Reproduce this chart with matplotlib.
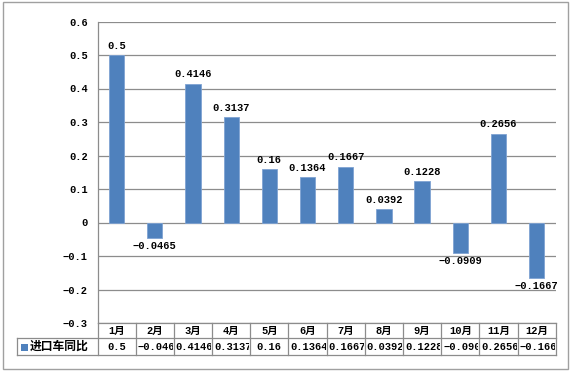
import matplotlib
matplotlib.use("Agg")
import matplotlib.pyplot as plt
from matplotlib.patches import Rectangle
from matplotlib.lines import Line2D

months = ["1月", "2月", "3月", "4月", "5月", "6月", "7月", "8月", "9月", "10月", "11月", "12月"]
values = [0.5, -0.0465, 0.4146, 0.3137, 0.16, 0.1364, 0.1667, 0.0392, 0.1228, -0.0909, 0.2656, -0.1667]
series_name = "进口车同比"
yticks = [-0.3, -0.2, -0.1, 0, 0.1, 0.2, 0.3, 0.4, 0.5, 0.6]

W, H = 570, 371
bar_color = "#4F81BD"
grid_color = "#8C8C8C"
num_font = ["Liberation Mono", "Noto Sans CJK SC"]
cjk_font = ["Noto Sans CJK SC", "DejaVu Sans"]
fs = 7.5

fig = plt.figure(figsize=(W / 100, H / 100), dpi=100)

# plot area in pixels
x0, x1 = 97.5, 555.7
y_top, y_bot = 21.5, 323.0
ax = fig.add_axes([x0 / W, 1 - y_bot / H, (x1 - x0) / W, (y_bot - y_top) / H])

n = len(months)
xs = list(range(n))
ax.bar(xs, values, width=0.4, color=bar_color, edgecolor="#7FA3D3", linewidth=0.6, zorder=3)
ax.set_xlim(-0.5, n - 0.5)
ax.set_ylim(-0.3, 0.6)
ax.set_yticks(yticks)
ax.set_yticklabels(["0" if t == 0 else f"{t:.1f}".replace("-", "−") for t in yticks],
                   fontfamily=num_font, fontweight="bold", fontsize=fs)
ax.set_xticks([])
ax.tick_params(axis="y", length=0, pad=7)
for t in yticks:
    ax.axhline(t, color=grid_color, linewidth=0.9, zorder=1)
for s in ["top", "right", "bottom"]:
    ax.spines[s].set_visible(False)
ax.spines["left"].set_color(grid_color)
ax.spines["left"].set_linewidth(0.9)

for x, v in zip(xs, values):
    lbl = f"{v:g}".replace("-", "−")
    if v >= 0:
        ax.annotate(lbl, (x, v), xytext=(0, 3), textcoords="offset points", ha="center", va="bottom",
                    fontfamily=num_font, fontweight="bold", fontsize=fs, zorder=4)
    else:
        ax.annotate(lbl, (x, v), xytext=(0, -2), textcoords="offset points", ha="center", va="top",
                    fontfamily=num_font, fontweight="bold", fontsize=fs, zorder=4)

# data table drawn in figure pixel coords
def fx(px):
    return px / W

def fy(py):
    return 1 - py / H

tbl_c = "#8C8C8C"
col_w = (x1 - x0) / n
r0, r1, r2 = 323.0, 338.3, 355.0
leg_left = 16.7

def hline(y, xa, xb):
    fig.add_artist(Line2D([fx(xa), fx(xb)], [fy(y), fy(y)], color=tbl_c, linewidth=0.9))

def vline(x, ya, yb):
    fig.add_artist(Line2D([fx(x), fx(x)], [fy(ya), fy(yb)], color=tbl_c, linewidth=0.9))

hline(r0, x0, x1)
hline(r1, leg_left, x1)
hline(r2, leg_left, x1)
vline(leg_left, r1, r2)
for i in range(n + 1):
    vline(x0 + i * col_w, r0, r2)

for i, m in enumerate(months):
    cx = x0 + (i + 0.5) * col_w
    fig.text(fx(cx), fy((r0 + r1) / 2), m, ha="center", va="center",
             fontfamily=num_font, fontweight="bold", fontsize=fs)
    t = fig.text(fx(x0 + i * col_w + 2), fy((r1 + r2) / 2), f"{values[i]:g}".replace("-", "−"),
                 ha="left", va="center", fontfamily=num_font, fontweight="bold", fontsize=fs)
    if len(t.get_text()) < 6:
        t.set_x(fx(cx))
        t.set_ha("center")
    clip = Rectangle((fx(x0 + i * col_w + 1), fy(r2)), fx(col_w - 2), fy(r1) - fy(r2),
                     transform=fig.transFigure)
    t.set_clip_path(clip)

fig.add_artist(Rectangle((fx(20.5), fy(350.5)), fx(7), fy(343.5) - fy(350.5), transform=fig.transFigure,
                         facecolor=bar_color, edgecolor="none"))
fig.text(fx(30), fy((r1 + r2) / 2), series_name, ha="left", va="center",
         fontfamily=cjk_font, fontweight="bold", fontsize=8.5)

# outer frame
fig.add_artist(Rectangle((fx(2.5), fy(368.5)), fx(565.5), fy(2.5) - fy(368.5), transform=fig.transFigure,
                         facecolor="none", edgecolor="#A0A0A0", linewidth=1.0))

fig.savefig("out.png", dpi=100)
